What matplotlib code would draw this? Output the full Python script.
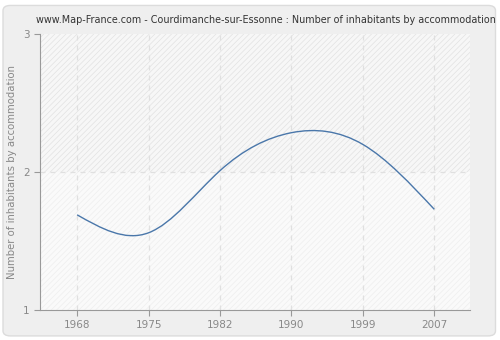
import matplotlib
matplotlib.use('Agg')
import matplotlib.pyplot as plt
import numpy as np
from matplotlib.path import Path
from matplotlib.patches import PathPatch, FancyBboxPatch

years = ['1968', '1975', '1982', '1990', '1999', '2007']
values = [1.69, 1.56, 2.01, 2.285, 2.20, 1.73]
y_ticks = [1, 2, 3]


def spline_path(xs, ys):
    # natural cubic spline (unit spacing) written as bezier segments
    n = len(xs)
    A = np.zeros((n, n))
    r = np.zeros(n)
    A[0, 0], A[0, 1], r[0] = 2, 1, 3 * (ys[1] - ys[0])
    A[-1, -2], A[-1, -1], r[-1] = 1, 2, 3 * (ys[-1] - ys[-2])
    for i in range(1, n - 1):
        A[i, i - 1], A[i, i], A[i, i + 1] = 1, 4, 1
        r[i] = 3 * (ys[i + 1] - ys[i - 1])
    m = np.linalg.solve(A, r)
    verts = [(xs[0], ys[0])]
    codes = [Path.MOVETO]
    for i in range(n - 1):
        h = (xs[i + 1] - xs[i]) / 3.0
        verts += [(xs[i] + h, ys[i] + m[i] * h),
                  (xs[i + 1] - h, ys[i + 1] - m[i + 1] * h),
                  (xs[i + 1], ys[i + 1])]
        codes += [Path.CURVE4] * 3
    return Path(verts, codes)


plt.rcParams['hatch.linewidth'] = 0.5

fig = plt.figure(figsize=(5, 3.4), dpi=100, facecolor='white')
bg = FancyBboxPatch((0.006, 0.012), 0.985, 0.972,
                    boxstyle='round,pad=0,rounding_size=0.015',
                    transform=fig.transFigure,
                    facecolor='#efefef', edgecolor='#dcdcdc',
                    linewidth=1, zorder=-5)
fig.add_artist(bg)

pos = list(range(len(years)))

ax = fig.add_axes([0.08, 0.088, 0.86, 0.812])
ax.set_zorder(1)
ax.set_facecolor('#fbfbfb')
ax.set_xlim(-0.52, 5.5)
ax.set_ylim(1, 3)

ax.axhspan(2, 3, facecolor='#f7f7f7', edgecolor='#e2e2e2', hatch='//////', linewidth=0, zorder=0)
ax.axhspan(1, 2, facecolor='#fafafa', edgecolor='#eeeeee', hatch='//////', linewidth=0, zorder=0)

for x in pos:
    ax.axvline(x, color='#e0e0e0', linestyle=(0, (4, 4)), linewidth=0.9, zorder=1)
ax.axhline(2, color='#e0e0e0', linestyle=(0, (4, 4)), linewidth=0.9, zorder=1)

ax.add_patch(PathPatch(spline_path(pos, values), facecolor='none',
                       edgecolor='#4a77aa', linewidth=1.0, zorder=3))

ax.set_xticks(pos)
ax.set_xticklabels(years)
ax.set_yticks(y_ticks)
ax.tick_params(colors='#999999', labelcolor='#888888', labelsize=7.5, length=4, width=0.8)

for s in ['top', 'right']:
    ax.spines[s].set_visible(False)
for s in ['left', 'bottom']:
    ax.spines[s].set_color('#999999')

ax.set_ylabel('Number of inhabitants by accommodation', color='#888888', fontsize=7.3)
fig.text(0.531, 0.942, 'www.Map-France.com - Courdimanche-sur-Essonne : Number of inhabitants by accommodation',
         fontsize=6.9, color='#333333', ha='center', va='center')

plt.savefig('out.png', dpi=100, facecolor=fig.get_facecolor())
